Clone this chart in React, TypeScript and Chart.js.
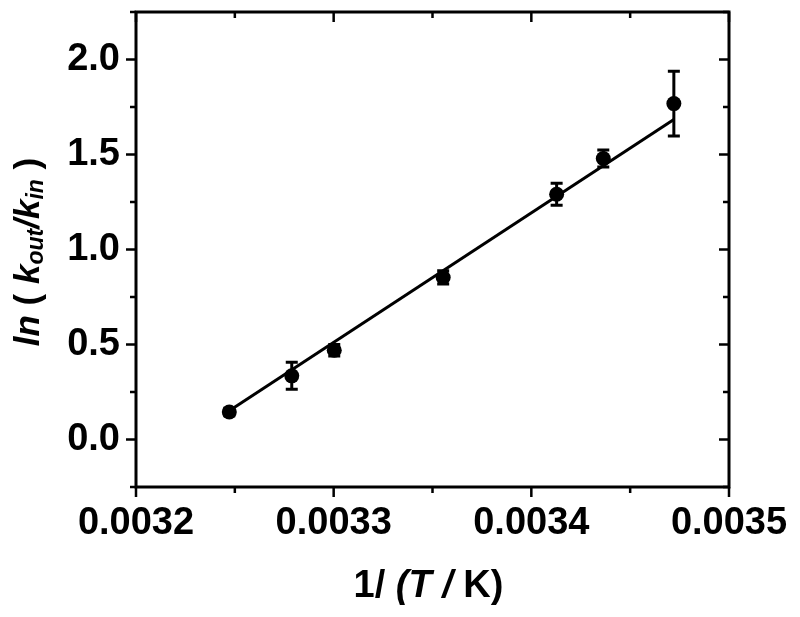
import React, { useEffect, useRef } from "react";
import { Chart, registerables } from "chart.js";

Chart.register(...registerables);

// Data
const invT = [0.0032472, 0.0032788, 0.0033003, 0.0033554, 0.0034128, 0.0034364, 0.0034721];
const lnRatio = [0.145, 0.335, 0.47, 0.853, 1.291, 1.479, 1.768];
const lnErr = [0.02, 0.071, 0.03, 0.035, 0.058, 0.045, 0.17];
const fitX = [0.003247, 0.0034721];
const fitY = [0.15, 1.684];

const xMin = 0.0032;
const xMax = 0.0035;
const xStep = 0.00005;
const yMin = -0.25;
const yMax = 2.25;
const yStep = 0.25;

const FONT = "'Liberation Sans', Arial, sans-serif";

const isMultiple = (v: number, m: number) => Math.abs(v / m - Math.round(v / m)) < 1e-6;

const decorPlugin = {
  id: "decor",
  beforeDatasetsDraw(chart: any) {
    const ctx = chart.ctx;
    const xs = chart.scales.x;
    const ys = chart.scales.y;
    ctx.save();
    ctx.strokeStyle = "#000";
    ctx.lineWidth = 3;
    for (let i = 0; i < invT.length; i++) {
      const px = xs.getPixelForValue(invT[i]);
      const top = ys.getPixelForValue(lnRatio[i] + lnErr[i]);
      const bot = ys.getPixelForValue(lnRatio[i] - lnErr[i]);
      ctx.beginPath();
      ctx.moveTo(px, top);
      ctx.lineTo(px, bot);
      ctx.moveTo(px - 6, top);
      ctx.lineTo(px + 6, top);
      ctx.moveTo(px - 6, bot);
      ctx.lineTo(px + 6, bot);
      ctx.stroke();
    }
    ctx.restore();
  },
  afterDraw(chart: any) {
    const ctx = chart.ctx;
    const a = chart.chartArea;
    const xs = chart.scales.x;
    const ys = chart.scales.y;
    ctx.save();
    ctx.strokeStyle = "#000";
    ctx.lineWidth = 3;
    ctx.lineCap = "butt";
    // frame
    ctx.strokeRect(a.left, a.top, a.right - a.left, a.bottom - a.top);
    ctx.lineWidth = 2.5;
    // x ticks
    xs.ticks.forEach((t: any) => {
      const px = xs.getPixelForValue(t.value);
      const len = isMultiple(t.value, 0.0001) ? 10 : 6;
      ctx.beginPath();
      ctx.moveTo(px, a.bottom);
      ctx.lineTo(px, a.bottom + len);
      ctx.moveTo(px, a.top);
      ctx.lineTo(px, a.top + len);
      ctx.stroke();
    });
    // y ticks
    ys.ticks.forEach((t: any) => {
      const py = ys.getPixelForValue(t.value);
      const len = isMultiple(t.value, 0.5) ? 10 : 6;
      ctx.beginPath();
      ctx.moveTo(a.left, py);
      ctx.lineTo(a.left - len, py);
      ctx.moveTo(a.right, py);
      ctx.lineTo(a.right - len, py);
      ctx.stroke();
    });

    ctx.fillStyle = "#000";
    ctx.textBaseline = "alphabetic";
    ctx.textAlign = "left";

    const drawSegs = (segs: any[], cx: number, cy: number) => {
      let total = 0;
      segs.forEach((s) => {
        ctx.font = s.f;
        total += ctx.measureText(s.t).width;
      });
      let x = cx - total / 2;
      segs.forEach((s) => {
        ctx.font = s.f;
        ctx.fillText(s.t, x, cy + (s.dy || 0));
        x += ctx.measureText(s.t).width;
      });
    };

    // x title
    const xc = (a.left + a.right) / 2 - 4;
    drawSegs(
      [
        { t: "1/ ", f: `bold 38px ${FONT}` },
        { t: "(T /", f: `italic bold 38px ${FONT}` },
        { t: " K)", f: `bold 38px ${FONT}` },
      ],
      xc,
      597
    );

    // y title
    ctx.save();
    ctx.translate(39, 252);
    ctx.rotate(-Math.PI / 2);
    drawSegs(
      [
        { t: "ln", f: `italic bold 35px ${FONT}` },
        { t: " ( ", f: `bold 35px ${FONT}` },
        { t: "k", f: `italic bold 35px ${FONT}` },
        { t: "out", f: `italic bold 23px ${FONT}`, dy: 4 },
        { t: "/", f: `italic bold 35px ${FONT}` },
        { t: "k", f: `italic bold 35px ${FONT}` },
        { t: "in", f: `italic bold 23px ${FONT}`, dy: 4 },
        { t: " )", f: `bold 35px ${FONT}` },
      ],
      0,
      0
    );
    ctx.restore();
    ctx.restore();
  },
};

export default function App() {
  const ref = useRef<HTMLCanvasElement | null>(null);
  useEffect(() => {
    if (!ref.current) return;
    const chart = new Chart(ref.current, {
      type: "scatter",
      data: {
        datasets: [
          {
            label: "fit",
            data: fitX.map((x, i) => ({ x, y: fitY[i] })),
            showLine: true,
            borderColor: "#000",
            borderWidth: 3,
            pointRadius: 0,
            fill: false,
          },
          {
            label: "data",
            data: invT.map((x, i) => ({ x, y: lnRatio[i] })),
            showLine: false,
            pointRadius: 7.5,
            pointBackgroundColor: "#000",
            pointBorderColor: "#000",
            pointBorderWidth: 0,
          },
        ],
      },
      options: {
        responsive: false,
        animation: false,
        layout: { padding: { top: 12, right: 71, left: 0, bottom: 0 } },
        plugins: { legend: { display: false }, tooltip: { enabled: false }, title: { display: false } },
        scales: {
          x: {
            type: "linear",
            position: "bottom",
            min: xMin,
            max: xMax,
            afterFit: (s: any) => {
              s.height = 130;
              s.paddingLeft = 0;
              s.paddingRight = 0;
            },
            border: { display: false },
            grid: { display: false, drawOnChartArea: false, drawTicks: false },
            ticks: {
              stepSize: xStep,
              autoSkip: false,
              maxRotation: 0,
              padding: 14,
              color: "#000",
              font: { family: FONT, size: 38, weight: "bold" },
              callback: (v: any) => (isMultiple(Number(v), 0.0001) ? Number(v).toFixed(4) : ""),
            },
          },
          y: {
            type: "linear",
            position: "left",
            min: yMin,
            max: yMax,
            afterFit: (s: any) => {
              s.width = 136;
              s.paddingTop = 0;
              s.paddingBottom = 0;
            },
            border: { display: false },
            grid: { display: false, drawOnChartArea: false, drawTicks: false },
            ticks: {
              stepSize: yStep,
              autoSkip: false,
              padding: 16,
              color: "#000",
              font: { family: FONT, size: 38, weight: "bold" },
              callback: (v: any) => (isMultiple(Number(v), 0.5) ? Number(v).toFixed(1) : ""),
            },
          },
        },
      },
      plugins: [decorPlugin],
    } as any);
    return () => chart.destroy();
  }, []);
  return (
    <div style={{ position: "absolute", left: 0, top: 0, width: 800, height: 617, background: "#fff" }}>
      <canvas ref={ref} width={800} height={617} />
    </div>
  );
}
